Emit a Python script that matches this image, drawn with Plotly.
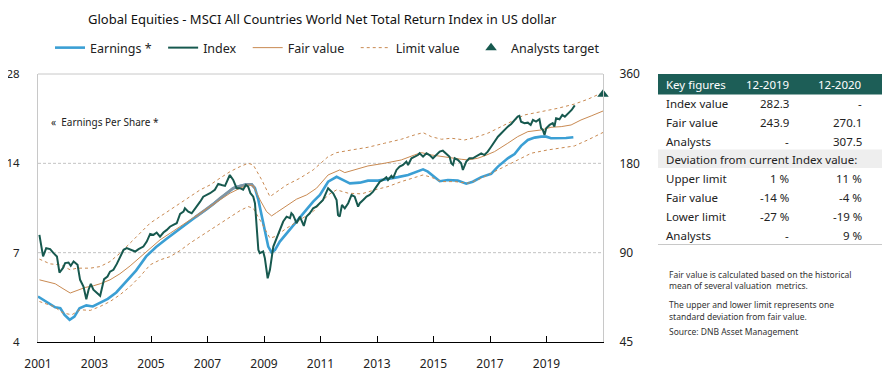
import plotly.graph_objects as go

# ---------------- data ----------------
index_years = [2001.05, 2001.18, 2001.29, 2001.43, 2001.55, 2001.67, 2001.76, 2001.88, 2001.96,
               2002.08, 2002.16, 2002.26, 2002.40, 2002.49, 2002.61, 2002.71, 2002.79, 2002.87, 2002.96,
               2003.08, 2003.20, 2003.34, 2003.46, 2003.55, 2003.67, 2003.79, 2003.91,
               2004.03, 2004.14, 2004.32, 2004.44, 2004.56, 2004.73, 2004.85, 2004.97,
               2005.09, 2005.20, 2005.32, 2005.44, 2005.56, 2005.67, 2005.79, 2005.91,
               2006.03, 2006.15, 2006.20, 2006.32, 2006.44, 2006.62, 2006.74, 2006.85, 2006.97,
               2007.09, 2007.26, 2007.38, 2007.50, 2007.62, 2007.79, 2007.91,
               2008.03, 2008.15, 2008.26, 2008.36, 2008.44, 2008.52, 2008.62, 2008.68, 2008.80, 2008.85, 2008.97,
               2009.03, 2009.13, 2009.21, 2009.33, 2009.44, 2009.56, 2009.68, 2009.80, 2009.92, 2009.97,
               2010.03, 2010.15, 2010.27, 2010.41, 2010.50, 2010.62, 2010.74, 2010.85, 2010.97,
               2011.09, 2011.27, 2011.45, 2011.57, 2011.62, 2011.68, 2011.76, 2011.86, 2011.98,
               2012.10, 2012.21, 2012.33, 2012.39, 2012.51, 2012.63, 2012.74, 2012.86, 2012.98,
               2013.10, 2013.21, 2013.33, 2013.39, 2013.51, 2013.57, 2013.69, 2013.80, 2013.92,
               2014.04, 2014.10, 2014.22, 2014.33, 2014.45, 2014.51, 2014.63, 2014.75, 2014.86, 2014.98,
               2015.10, 2015.22, 2015.33, 2015.45, 2015.57, 2015.63, 2015.69, 2015.75, 2015.86, 2015.98,
               2016.04, 2016.16, 2016.27, 2016.39, 2016.57, 2016.69, 2016.80, 2016.92,
               2017.04, 2017.16, 2017.28, 2017.40, 2017.51, 2017.63, 2017.75, 2017.87, 2017.98,
               2018.04, 2018.10, 2018.22, 2018.34, 2018.44, 2018.52, 2018.63, 2018.75, 2018.81, 2018.87, 2018.93, 2018.99,
               2019.11, 2019.22, 2019.28, 2019.34, 2019.46, 2019.56, 2019.65, 2019.77, 2019.89, 2020.00]
index_values = [103.3, 87.4, 93.2, 92.5, 89.7, 87.4, 77.1, 79.8, 83.0,
                83.4, 81.3, 84.0, 81.9, 72.9, 69.2, 62.7, 67.5, 70.6, 67.5,
                65.8, 64.4, 73.3, 74.8, 77.7, 78.8, 82.5, 87.4,
                92.0, 93.2, 92.0, 90.8, 92.5, 94.4, 98.1, 104.1,
                103.3, 105.2, 101.9, 105.2, 107.4, 110.1, 111.6, 113.1,
                121.5, 123.7, 127.0, 123.7, 122.2, 128.6, 133.7, 139.0, 140.8,
                142.7, 146.6, 153.5, 152.2, 151.1, 164.4, 158.2,
                148.4, 148.4, 146.6, 152.2, 150.3, 142.7, 139.0, 132.1, 92.0, 89.7, 90.8,
                86.3, 73.8, 78.8, 94.4, 100.7, 107.4, 114.6, 119.0, 117.6, 122.2,
                120.6, 113.1, 119.0, 110.8, 119.0, 122.2, 127.0, 128.6, 132.1,
                135.5, 148.4, 142.7, 135.5, 120.6, 119.0, 130.3, 127.0, 132.1,
                140.8, 139.0, 128.6, 132.1, 135.5, 139.0, 140.8, 144.5, 150.3,
                156.1, 158.2, 161.7, 158.2, 163.4, 160.5, 171.0, 175.5, 177.8,
                182.4, 177.8, 187.2, 189.5, 192.0, 194.6, 189.5, 194.6, 192.0, 187.2,
                192.0, 197.1, 198.6, 194.6, 189.5, 180.0, 177.8, 187.2, 184.9, 180.0,
                171.0, 182.4, 187.2, 187.2, 192.0, 194.6, 192.0, 197.1,
                204.8, 212.9, 221.3, 227.4, 233.3, 239.3, 244.4, 252.0, 258.6,
                260.0, 248.7, 245.7, 246.8, 242.5, 252.0, 248.7, 253.4, 236.4, 233.3, 224.3, 236.4,
                242.5, 245.7, 239.3, 255.4, 253.4, 261.9, 258.6, 265.5, 272.3, 282.3]

earnings_years = [2001.00, 2001.32, 2001.61, 2001.79, 2001.94, 2002.12, 2002.29, 2002.47, 2002.71, 2002.94,
                  2003.18, 2003.47, 2003.77, 2004.12, 2004.47, 2004.83, 2005.18, 2005.53, 2005.89,
                  2006.24, 2006.57, 2006.97, 2007.21, 2007.44, 2007.68, 2007.91, 2008.15, 2008.39, 2008.56,
                  2008.68, 2008.80, 2008.92, 2009.03, 2009.15, 2009.27, 2009.39, 2009.56, 2009.80,
                  2010.03, 2010.27, 2010.51, 2010.74, 2010.98, 2011.27, 2011.57, 2011.86, 2012.04,
                  2012.39, 2012.68, 2013.04, 2013.39, 2013.74, 2014.10, 2014.45, 2014.63, 2014.80,
                  2015.04, 2015.22, 2015.51, 2015.86, 2016.16, 2016.39, 2016.69, 2017.04, 2017.28,
                  2017.63, 2017.87, 2018.10, 2018.34, 2018.58, 2018.81, 2018.99, 2019.16, 2019.40,
                  2019.69, 2019.95]
earnings_eps = [4.98, 4.75, 4.58, 4.55, 4.32, 4.16, 4.26, 4.55, 4.65, 4.61,
                4.73, 4.89, 5.14, 5.59, 6.09, 6.80, 7.31, 7.77, 8.25,
                8.75, 9.22, 9.80, 10.22, 10.68, 11.15, 11.54, 11.75, 11.90, 11.90,
                11.54, 10.54, 9.25, 8.14, 7.34, 7.01, 7.15, 7.63, 8.14,
                8.68, 9.25, 9.80, 10.40, 10.95, 12.14, 12.61, 12.21, 11.98,
                12.05, 12.24, 12.24, 12.38, 12.58, 12.79, 13.12, 13.36, 13.12,
                12.58, 12.19, 12.30, 12.24, 11.95, 12.14, 12.58, 12.91, 13.65,
                14.56, 15.05, 16.03, 16.79, 17.09, 17.22, 17.22, 17.01, 17.01,
                17.04, 17.14]

fair_years = [2001.05, 2001.32, 2001.61, 2001.85, 2002.14, 2002.38, 2002.67, 2002.96, 2003.20, 2003.55,
              2003.90, 2004.26, 2004.61, 2004.97, 2005.32, 2005.68, 2006.03, 2006.38, 2006.74,
              2007.09, 2007.44, 2007.80, 2008.15, 2008.44, 2008.62, 2008.86, 2009.09, 2009.27, 2009.44,
              2009.80, 2010.15, 2010.51, 2010.86, 2011.27, 2011.68, 2011.86, 2012.21, 2012.68, 2013.27,
              2013.86, 2014.33, 2014.57, 2014.92, 2015.28, 2015.63, 2015.98, 2016.22, 2016.57, 2016.81,
              2017.16, 2017.63, 2017.98, 2018.34, 2018.81, 2019.16, 2019.52, 2019.87, 2020.22, 2020.58,
              2020.93, 2021.00]
fair_values = [72.9, 72.0, 70.7, 68.4, 65.8, 67.1, 68.7, 69.6, 70.7, 72.9,
               76.4, 81.2, 86.9, 93.2, 99.4, 104.7, 110.2, 116.1, 122.2,
               128.7, 135.5, 142.8, 148.4, 152.2, 151.1, 135.5, 123.8, 119.7, 122.8,
               129.4, 136.3, 140.9, 148.4, 164.5, 171.0, 167.5, 171.0, 176.4, 180.1,
               184.8, 192.1, 195.6, 192.1, 189.6, 187.3, 185.8, 184.8, 187.3, 190.8,
               197.1, 210.4, 221.4, 230.2, 233.2, 238.1, 239.3, 242.4, 252.0, 260.0,
               268.8, 270.1]

upper_years = [2001.05, 2001.43, 2001.79, 2002.14, 2002.38, 2002.85, 2003.20, 2003.55, 2003.90,
               2004.26, 2004.61, 2004.97, 2005.32, 2005.68, 2006.03, 2006.38, 2006.74, 2007.09,
               2007.44, 2007.80, 2008.15, 2008.44, 2008.62, 2008.92, 2009.21, 2009.39, 2009.80,
               2010.27, 2010.74, 2011.27, 2011.57, 2012.10, 2012.68, 2013.27, 2013.86, 2014.33,
               2014.63, 2014.92, 2015.28, 2015.63, 2016.10, 2016.45, 2016.92, 2017.28, 2017.75,
               2018.22, 2018.81, 2019.40, 2019.99, 2020.46, 2020.93, 2021.00]
upper_values = [85.6, 82.5, 81.9, 78.8, 79.8, 79.8, 80.8, 84.0, 89.6,
                96.9, 104.1, 113.2, 119.1, 125.4, 131.4, 139.0, 146.5, 152.2,
                160.4, 168.8, 175.5, 180.1, 177.8, 158.3, 139.0, 142.8, 152.2,
                160.4, 171.0, 189.6, 195.6, 199.7, 203.9, 210.4, 217.0, 224.4,
                228.4, 221.4, 217.0, 218.7, 215.8, 219.7, 227.3, 236.3, 248.7,
                262.0, 268.8, 275.9, 285.1, 295.9, 310.0, 313.4]

lower_years = [2001.05, 2001.55, 2001.90, 2002.20, 2002.49, 2002.85, 2003.20, 2003.55, 2003.90,
               2004.26, 2004.61, 2004.97, 2005.32, 2005.68, 2006.03, 2006.38, 2006.74, 2007.09,
               2007.44, 2007.80, 2008.15, 2008.44, 2008.62, 2008.92, 2009.21, 2009.39, 2009.80,
               2010.27, 2010.74, 2011.27, 2011.57, 2011.98, 2012.45, 2012.92, 2013.39, 2013.86,
               2014.33, 2014.63, 2014.92, 2015.28, 2015.75, 2016.22, 2016.57, 2017.04, 2017.63,
               2017.98, 2018.46, 2019.04, 2019.63, 2019.99, 2020.46, 2020.93, 2021.00]
lower_values = [61.6, 59.3, 56.3, 55.6, 57.8, 57.5, 59.3, 61.6, 64.9,
                69.2, 74.8, 81.9, 85.1, 87.3, 91.5, 96.9, 102.0, 107.4,
                112.5, 119.1, 124.7, 128.7, 127.1, 113.2, 100.7, 102.0, 108.8,
                116.1, 123.8, 140.9, 146.5, 142.8, 142.0, 146.5, 150.3, 156.2,
                161.6, 164.5, 161.6, 156.2, 156.2, 154.3, 158.3, 166.7, 178.8,
                185.8, 194.7, 199.7, 203.9, 206.0, 215.8, 227.3, 228.7]

target_year = [2021.0]
target_value = [307.5]

x_ticks = [2001, 2003, 2005, 2007, 2009, 2011, 2013, 2015, 2017, 2019, 2021]
x_ticktext = ["2001", "2003", "2005", "2007", "2009", "2011", "2013", "2015", "2017", "2019", ""]
left_ticks = [3.5, 7, 14, 28]
left_ticktext = ["4", "7", "14", "28"]
right_ticks = [45, 90, 180, 360]

table_header = ["Key figures", "12-2019", "12-2020"]
table_rows_top = [["Index value", "282.3", "-"],
                  ["Fair value", "243.9", "270.1"],
                  ["Analysts", "-", "307.5"]]
table_section = "Deviation from current Index value:"
table_rows_bottom = [["Upper limit", "1 %", "11 %"],
                     ["Fair value", "-14 %", "-4 %"],
                     ["Lower limit", "-27 %", "-19 %"],
                     ["Analysts", "-", "9 %"]]
notes = [("Fair value is calculated based on the historical", 274),
         ("mean of several valuation  metrics.", 285.5),
         ("The upper and lower limit represents one", 304),
         ("standard deviation from fair value.", 316),
         ("Source: DNB Asset Management", 331.5)]

# ---------------- styling ----------------
OFF = 8                      # page body margin offset of the figure div
W_ABS, H_ABS = 891, 377
L_ABS, R_ABS, T_ABS, B_ABS = 38, 603, 74, 342
W, H = W_ABS - OFF, H_ABS - OFF
FONT = "Noto Sans"
C_INDEX = "#17594f"
C_EARN = "#3b9fd4"
C_FAIR = "#c98a52"
C_GREY_EARN = "#8195a3"
TXT = "#222222"
NB = "\u00a0\u00a0"


def px(X):
    return (X - L_ABS) / (R_ABS - L_ABS)


def py(Y):
    return (B_ABS - Y) / (B_ABS - T_ABS)


fig = go.Figure()

fig.add_trace(go.Scatter(x=upper_years, y=upper_values, yaxis="y2", mode="lines",
                         name="Limit value" + NB, legendrank=4,
                         line=dict(color=C_FAIR, width=1, dash="dot")))
fig.add_trace(go.Scatter(x=lower_years, y=lower_values, yaxis="y2", mode="lines",
                         name="Limit value", showlegend=False,
                         line=dict(color=C_FAIR, width=1, dash="dot")))
fig.add_trace(go.Scatter(x=fair_years, y=fair_values, yaxis="y2", mode="lines",
                         name="Fair value" + NB, legendrank=3,
                         line=dict(color=C_FAIR, width=1)))
fig.add_trace(go.Scatter(x=earnings_years, y=earnings_eps, yaxis="y", mode="lines",
                         name="Earnings *" + NB, legendrank=1,
                         line=dict(color=C_EARN, width=2.6)))
grey_x = [x for x in earnings_years if 2006.5 <= x <= 2008.7]
grey_y = [v for x, v in zip(earnings_years, earnings_eps) if 2006.5 <= x <= 2008.7]
fig.add_trace(go.Scatter(x=grey_x, y=grey_y, yaxis="y", mode="lines", showlegend=False,
                         line=dict(color=C_GREY_EARN, width=2.6)))
fig.add_trace(go.Scatter(x=index_years, y=index_values, yaxis="y2", mode="lines",
                         name="Index" + NB, legendrank=2,
                         line=dict(color=C_INDEX, width=2)))
fig.add_trace(go.Scatter(x=target_year, y=target_value, yaxis="y2", mode="markers",
                         name="Analysts target", legendrank=5, cliponaxis=False,
                         marker=dict(symbol="triangle-up", size=10, color=C_INDEX)))

shapes = []
shapes.append(dict(type="line", xref="paper", yref="paper", x0=0, x1=1, y0=1, y1=1,
                   line=dict(color="#c8c8c8", width=1)))
for gv in [90, 180]:
    shapes.append(dict(type="line", xref="paper", yref="y2", x0=0, x1=1, y0=gv, y1=gv,
                       line=dict(color="#b4b4b4", width=0.8, dash="3px,2px"), layer="below"))

annotations = []
annotations.append(dict(text="Global Equities - MSCI All Countries World Net Total Return Index in US dollar",
                        xref="paper", yref="paper", x=px(322), y=py(19), xanchor="center", yanchor="middle",
                        showarrow=False, font=dict(family=FONT, size=13, color="#111111")))
annotations.append(dict(text="«  Earnings Per Share *", xref="paper", yref="paper",
                        x=px(49), y=py(122), xanchor="left", yanchor="middle", showarrow=False,
                        font=dict(family=FONT, size=10, color=TXT)))

# key figures table
TX0, TX1 = 658, 882
shapes.append(dict(type="rect", xref="paper", yref="paper", x0=px(TX0), x1=px(TX1), y0=py(74), y1=py(94.5),
                   fillcolor="#1d5e57", line=dict(width=0)))
shapes.append(dict(type="rect", xref="paper", yref="paper", x0=px(TX0), x1=px(TX1), y0=py(149.5), y1=py(168),
                   fillcolor="#eeeeee", line=dict(width=0)))
shapes.append(dict(type="line", xref="paper", yref="paper", x0=px(TX0), x1=px(TX1), y0=py(244.5), y1=py(244.5),
                   line=dict(color="#c8c8c8", width=1)))
col_x = [664, 791, 864]
TFS = 11.5


def add_row(cells, yc, color=TXT):
    for j, txt in enumerate(cells):
        annotations.append(dict(text=txt, xref="paper", yref="paper", x=px(col_x[j]), y=py(yc),
                                xanchor="left" if j == 0 else "right", yanchor="middle", showarrow=False,
                                font=dict(family=FONT, size=TFS, color=color)))


add_row(table_header, 84, "#ffffff")
for i, row in enumerate(table_rows_top):
    add_row(row, 103.5 + 19 * i)
annotations.append(dict(text=table_section, xref="paper", yref="paper", x=px(664), y=py(159),
                        xanchor="left", yanchor="middle", showarrow=False,
                        font=dict(family=FONT, size=TFS, color=TXT)))
for i, row in enumerate(table_rows_bottom):
    add_row(row, 178.3 + 19 * i)

for txt, yc in notes:
    annotations.append(dict(text=txt, xref="paper", yref="paper", x=px(667), y=py(yc),
                            xanchor="left", yanchor="middle", showarrow=False,
                            font=dict(family=FONT, size=8.5, color="#333333")))

fig.update_layout(
    width=W, height=H,
    margin=dict(l=L_ABS - OFF, r=W_ABS - R_ABS, t=T_ABS - OFF, b=H_ABS - B_ABS, pad=0, autoexpand=False),
    paper_bgcolor="white", plot_bgcolor="white",
    font=dict(family=FONT, size=12, color=TXT),
    showlegend=True,
    legend=dict(orientation="h", x=px(50), y=py(48), xanchor="left", yanchor="middle",
                font=dict(family=FONT, size=12.5, color=TXT), bgcolor="rgba(0,0,0,0)",
                traceorder="normal", itemwidth=30, tracegroupgap=0),
    xaxis=dict(range=[2001, 2021], tickmode="array", tickvals=x_ticks, ticktext=x_ticktext,
               ticks="inside", ticklen=6, tickcolor="#000000", tickwidth=1,
               showline=True, linecolor="#000000", linewidth=1, showgrid=False, zeroline=False,
               ticklabelstandoff=11, tickfont=dict(family=FONT, size=12, color=TXT)),
    yaxis=dict(type="log", range=[0.544068, 1.447158], tickmode="array", tickvals=left_ticks,
               ticktext=left_ticktext, showgrid=False, zeroline=False, ticks="",
               showline=True, linecolor="#c8c8c8", linewidth=1, ticklabelstandoff=15,
               tickfont=dict(family=FONT, size=11.5, color=TXT)),
    yaxis2=dict(type="log", range=[1.653213, 2.556303], overlaying="y", side="right",
                tickmode="array", tickvals=right_ticks, showgrid=False, zeroline=False, ticks="",
                showline=True, linecolor="#c8c8c8", linewidth=1, ticklabelstandoff=13,
                tickfont=dict(family=FONT, size=12, color=TXT)),
    shapes=shapes, annotations=annotations,
)

fig.write_html("out.html")
